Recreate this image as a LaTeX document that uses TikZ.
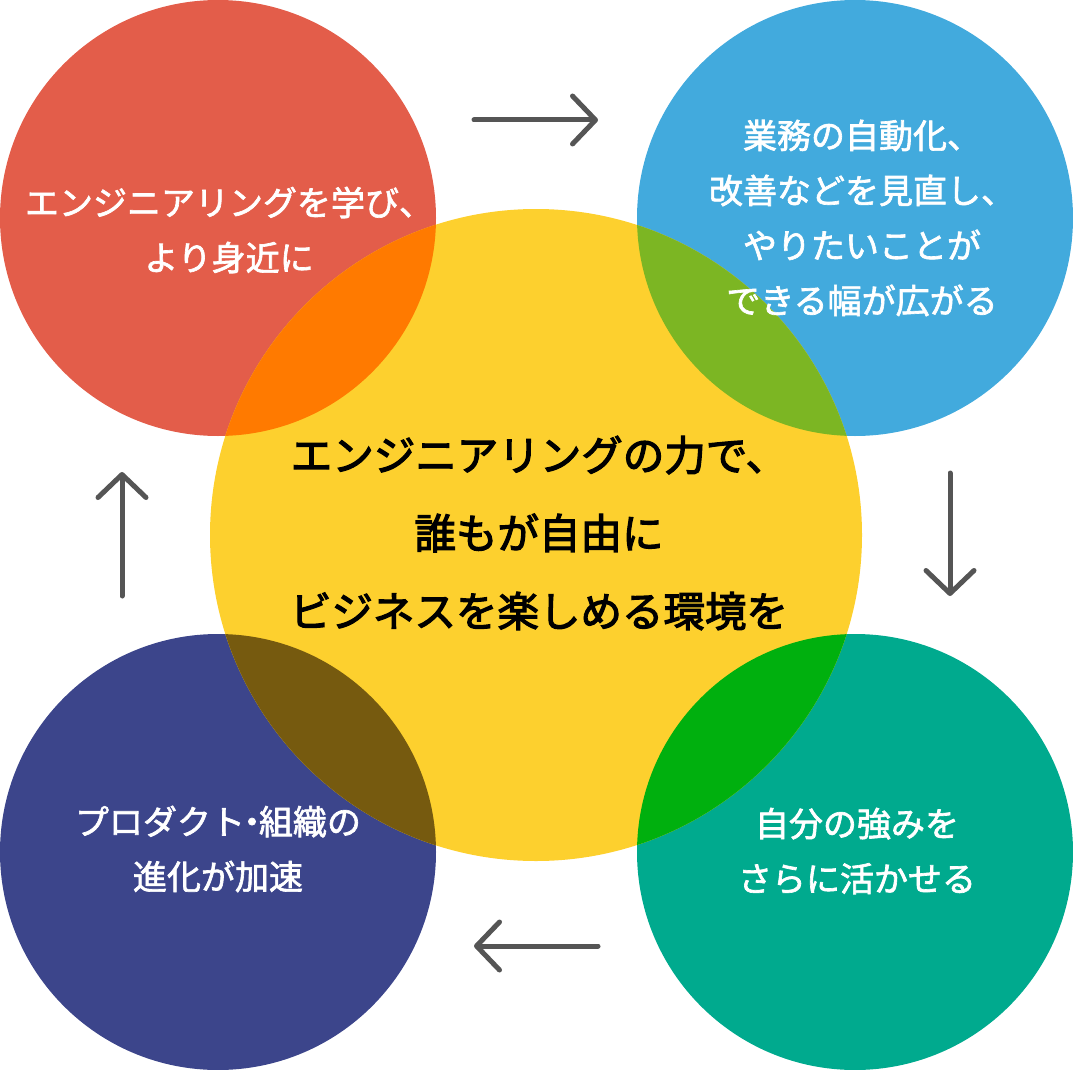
\documentclass[tikz,border=0pt]{standalone}
\usepackage{fontspec}
\newfontfamily\jp[FakeBold=1.9]{Noto Sans CJK JP}
\newfontfamily\jpc[FakeBold=2.8]{Noto Sans CJK JP}
\usetikzlibrary{arrows.meta}
\definecolor{cred}{HTML}{E35D4A}
\definecolor{cblue}{HTML}{42AADD}
\definecolor{cteal}{HTML}{00AA8E}
\definecolor{cnavy}{HTML}{3C458B}
\definecolor{cyellow}{HTML}{FDD02E}
\definecolor{corange}{HTML}{FF7A00}
\definecolor{cgreenA}{HTML}{7CB623}
\definecolor{cgreenB}{HTML}{00B00E}
\definecolor{colive}{HTML}{765A0F}
\definecolor{carrow}{HTML}{555555}
\tikzset{
  small/.style={circle, minimum size=436pt, inner sep=0pt, draw=none},
  big/.style={circle, minimum size=652pt, inner sep=0pt, draw=none},
  cornertext/.style={text=white, align=center, font=\jp\fontsize{34}{55}\selectfont},
  centertext/.style={text=black, align=center, font=\jpc\fontsize{41.5}{78}\selectfont},
  flow/.style={draw=carrow, line width=5pt, line cap=round,
    -{Straight Barb[length=23pt, width=48pt, line width=5pt, round]}}
}
\begin{document}
\begin{tikzpicture}[x=1pt,y=-1pt]
\useasboundingbox (0,0) rectangle (1073,1070);
\node[small, fill=cred] (R) at (218,218) {};
\node[small, fill=cblue] (B) at (855,218) {};
\node[small, fill=cteal] (T) at (855,852) {};
\node[small, fill=cnavy] (N) at (218,852) {};
\node[big, fill=cyellow] (Y) at (536,535) {};
\begin{scope}
  \clip (218,218) circle[radius=218pt];
  \fill[corange] (536,535) circle[radius=326pt];
\end{scope}
\begin{scope}
  \clip (855,218) circle[radius=218pt];
  \fill[cgreenA] (536,535) circle[radius=326pt];
\end{scope}
\begin{scope}
  \clip (855,852) circle[radius=218pt];
  \fill[cgreenB] (536,535) circle[radius=326pt];
\end{scope}
\begin{scope}
  \clip (218,852) circle[radius=218pt];
  \fill[colive] (536,535) circle[radius=326pt];
\end{scope}
\node[cornertext] (tR) at (229,230) {エンジニアリングを学び、\\より身近に};
\node[cornertext] (tB) at (862,218) {業務の自動化、\\改善などを見直し、\\やりたいことが\\できる幅が広がる};
\node[cornertext] (tT) at (857,851) {自分の強みを\\さらに活かせる};
\node[cornertext] (tN) at (218,849) {プロダクト\kern-10pt・\kern-10pt組織の\\進化が加速};
\node[centertext] (tY) at (539,533) {エンジニアリングの力で、\\誰もが自由に\\ビジネスを楽しめる環境を};
\coordinate (a1s) at (474,120);
\coordinate (a1e) at (598,120);
\coordinate (a2s) at (950,473);
\coordinate (a2e) at (950,596);
\coordinate (a3s) at (598,946);
\coordinate (a3e) at (474,946);
\coordinate (a4s) at (122,596);
\coordinate (a4e) at (122,472);
\draw[flow] (a1s) -- (a1e);
\draw[flow] (a2s) -- (a2e);
\draw[flow] (a3s) -- (a3e);
\draw[flow] (a4s) -- (a4e);
\end{tikzpicture}
\end{document}
